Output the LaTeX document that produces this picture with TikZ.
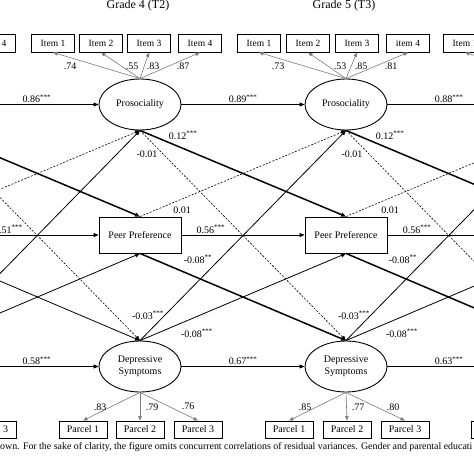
\documentclass[tikz,border=0pt]{standalone}
\usepackage{fontspec}
\setmainfont{Liberation Serif}
\usepackage{tikz}
\usetikzlibrary{arrows.meta,positioning,shapes.geometric}
\definecolor{loadgray}{HTML}{7A7A7A}

\begin{document}
\begin{tikzpicture}[x=1pt, y=-1pt,
  lat/.style={ellipse, draw, line width=0.9pt, minimum width=82pt, minimum height=51pt,
    inner sep=0pt, align=center, font=\fontsize{10}{11.7}\selectfont},
  obs/.style={rectangle, draw, line width=0.9pt, minimum width=82pt, minimum height=36pt,
    font=\fontsize{10}{12}\selectfont},
  ind/.style={rectangle, draw, line width=0.9pt, minimum width=43pt, minimum height=18pt,
    inner sep=1pt, font=\fontsize{9.5}{11}\selectfont},
  pcl/.style={ind, minimum width=48pt, minimum height=17pt, font=\fontsize{10}{11}\selectfont},
  est/.style={inner sep=1pt, font=\fontsize{10}{12}\selectfont},
  wave/.style={inner sep=0pt, font=\fontsize{12}{14}\selectfont},
  cross/.style={-{Triangle[length=5pt,width=4pt]}, line width=0.8pt},
  sig/.style={cross, line width=1.5pt},
  ns/.style={cross, line width=0.6pt, dash pattern=on 2pt off 1.5pt},
  loading/.style={-{Triangle[length=4.5pt,width=3.5pt]}, line width=0.6pt, draw=loadgray},
]
  \useasboundingbox (0,0) rectangle (474,474);
  \clip (0,0) rectangle (474,474);

  % waves
  \node[wave] (tt2) at (138,6) {Grade 4 (T2)};
  \node[wave] (tt3) at (344,6) {Grade 5 (T3)};

  % edges of T1 and T4, outside the frame
  \coordinate (pro1e) at (-25,104.5);
  \coordinate (pro1s) at (-66,130);
  \coordinate (peer1e) at (-25,235);
  \coordinate (peer1n) at (-66,217);
  \coordinate (peer1s) at (-66,253);
  \coordinate (dep1e) at (-25,366.5);
  \coordinate (dep1n) at (-66,341);
  \coordinate (pro4w) at (511,104.5);
  \coordinate (pro4n) at (552,79);
  \coordinate (pro4s) at (552,130);
  \coordinate (peer4w) at (511,235);
  \coordinate (peer4n) at (552,217);
  \coordinate (peer4s) at (552,253);
  \coordinate (dep4w) at (511,366.5);
  \coordinate (dep4n) at (552,341);

  % items
  \node[ind] (i14) at (-6,43) {Item 4};
  \node[ind] (i21) at (53,43) {Item 1};
  \node[ind] (i22) at (101,43) {Item 2};
  \node[ind] (i23) at (149,43) {Item 3};
  \node[ind] (i24) at (200,43) {Item 4};
  \node[ind] (i31) at (259,43) {Item 1};
  \node[ind] (i32) at (308,43) {Item 2};
  \node[ind] (i33) at (357,43) {Item 3};
  \node[ind] (i34) at (408,43) {item 4};
  \node[ind] (i41) at (465,43) {Item 1};

  % constructs
  \node[lat] (pro2) at (140,104.5) {Prosociality};
  \node[obs] (peer2) at (140,235) {Peer Preference};
  \node[lat] (dep2) at (140,366.5) {Depressive\\Symptoms};
  \node[lat] (pro3) at (346,104.5) {Prosociality};
  \node[obs] (peer3) at (346,235) {Peer Preference};
  \node[lat] (dep3) at (346,366.5) {Depressive\\Symptoms};

  % parcels
  \node[pcl] (p13) at (-8,429.5) {Parcel 3};
  \node[pcl] (p21) at (83,429.5) {Parcel 1};
  \node[pcl] (p22) at (140,429.5) {Parcel 2};
  \node[pcl] (p23) at (198,429.5) {Parcel 3};
  \node[pcl] (p31) at (289,429.5) {Parcel 1};
  \node[pcl] (p32) at (347,429.5) {Parcel 2};
  \node[pcl] (p33) at (405,429.5) {Parcel 3};
  \node[pcl] (p41) at (495,429.5) {Parcel 1};

  % loadings
  \draw[loading] (pro2.north) -- (i21.south);
  \draw[loading] (pro2.north) -- (i22.south);
  \draw[loading] (pro2.north) -- (i23.south);
  \draw[loading] (pro2.north) -- (i24.south);
  \draw[loading] (pro3.north) -- (i31.south);
  \draw[loading] (pro3.north) -- (i32.south);
  \draw[loading] (pro3.north) -- (i33.south);
  \draw[loading] (pro3.north) -- (i34.south);
  \draw[loading] (pro4n) -- (i41.south);
  \draw[loading] (dep2.south) -- (p21.north);
  \draw[loading] (dep2.south) -- (p22.north);
  \draw[loading] (dep2.south) -- (p23.north);
  \draw[loading] (dep3.south) -- (p31.north);
  \draw[loading] (dep3.south) -- (p32.north);
  \draw[loading] (dep3.south) -- (p33.north);
  \node[est] (l21) at (70,66) {.74};
  \node[est] (l22) at (132,66) {.55};
  \node[est] (l23) at (153,66) {.83};
  \node[est] (l24) at (183,66) {.87};
  \node[est] (l31) at (278,66) {.73};
  \node[est] (l32) at (340,66) {.53};
  \node[est] (l33) at (361,66) {.85};
  \node[est] (l34) at (391,66) {.81};
  \node[est] (m21) at (100,407) {.83};
  \node[est] (m22) at (152,407) {.79};
  \node[est] (m23) at (188,406) {.76};
  \node[est] (m31) at (305,407) {.85};
  \node[est] (m32) at (358,407) {.77};
  \node[est] (m33) at (393,407) {.80};

  % stability paths
  \draw[cross] (pro1e) -- node[est, above] {0.86\textsuperscript{***}} (pro2);
  \draw[cross] (pro2) -- node[est, above] {0.89\textsuperscript{***}} (pro3);
  \draw[cross] (pro3) -- node[est, above] {0.88\textsuperscript{***}} (pro4w);
  \draw[cross] (peer1e) -- node[est, above, pos=0.27] {0.51\textsuperscript{***}} (peer2);
  \draw[cross] (peer2) -- node[est, above, pos=0.24] {0.56\textsuperscript{***}} (peer3);
  \draw[cross] (peer3) -- node[est, above, pos=0.24] {0.56\textsuperscript{***}} (peer4w);
  \draw[cross] (dep1e) -- node[est, above] {0.58\textsuperscript{***}} (dep2);
  \draw[cross] (dep2) -- node[est, above] {0.67\textsuperscript{***}} (dep3);
  \draw[cross] (dep3) -- node[est, above] {0.63\textsuperscript{***}} (dep4w);

  % cross-lagged paths T1 -> T2
  \draw[sig] (pro1s) -- (peer2.north);
  \draw[ns] (pro1s) -- (dep2.north);
  \draw[ns] (peer1n) -- (pro2.south);
  \draw[cross] (peer1s) -- (dep2.north);
  \draw[cross] (dep1n) -- (pro2.south);
  \draw[cross] (dep1n) -- (peer2.south);

  % cross-lagged paths T2 -> T3
  \draw[sig] (pro2.south) -- (peer3.north);
  \draw[ns] (pro2.south) -- (dep3.north);
  \draw[ns] (peer2.north) -- (pro3.south);
  \draw[sig] (peer2.south) -- (dep3.north);
  \draw[cross] (dep2.north) -- (pro3.south);
  \draw[cross] (dep2.north) -- (peer3.south);
  \node[est] (c21) at (183,135) {0.12\textsuperscript{***}};
  \node[est] (c22) at (147,154) {-0.01};
  \node[est] (c23) at (182,210) {0.01};
  \node[est] (c24) at (198,259) {-0.08\textsuperscript{**}};
  \node[est] (c25) at (148,315) {-0.03\textsuperscript{***}};
  \node[est] (c26) at (197,333) {-0.08\textsuperscript{***}};

  % cross-lagged paths T3 -> T4
  \draw[sig] (pro3.south) -- (peer4n);
  \draw[ns] (pro3.south) -- (dep4n);
  \draw[ns] (peer3.north) -- (pro4s);
  \draw[sig] (peer3.south) -- (dep4n);
  \draw[cross] (dep3.north) -- (pro4s);
  \draw[cross] (dep3.north) -- (peer4s);
  \node[est] (c31) at (390,135) {0.12\textsuperscript{***}};
  \node[est] (c32) at (352,154) {-0.01};
  \node[est] (c33) at (390,210) {0.01};
  \node[est] (c34) at (403,259) {-0.08\textsuperscript{**}};
  \node[est] (c35) at (354,315) {-0.03\textsuperscript{***}};
  \node[est] (c36) at (402,333) {-0.08\textsuperscript{***}};

  % note
  \node[anchor=west, inner sep=0pt, font=\fontsize{9.9}{11}\selectfont] (note) at (0,447)
    {own. For the sake of clarity, the figure omits concurrent correlations of residual variances. Gender and parental educati};
\end{tikzpicture}
\end{document}
